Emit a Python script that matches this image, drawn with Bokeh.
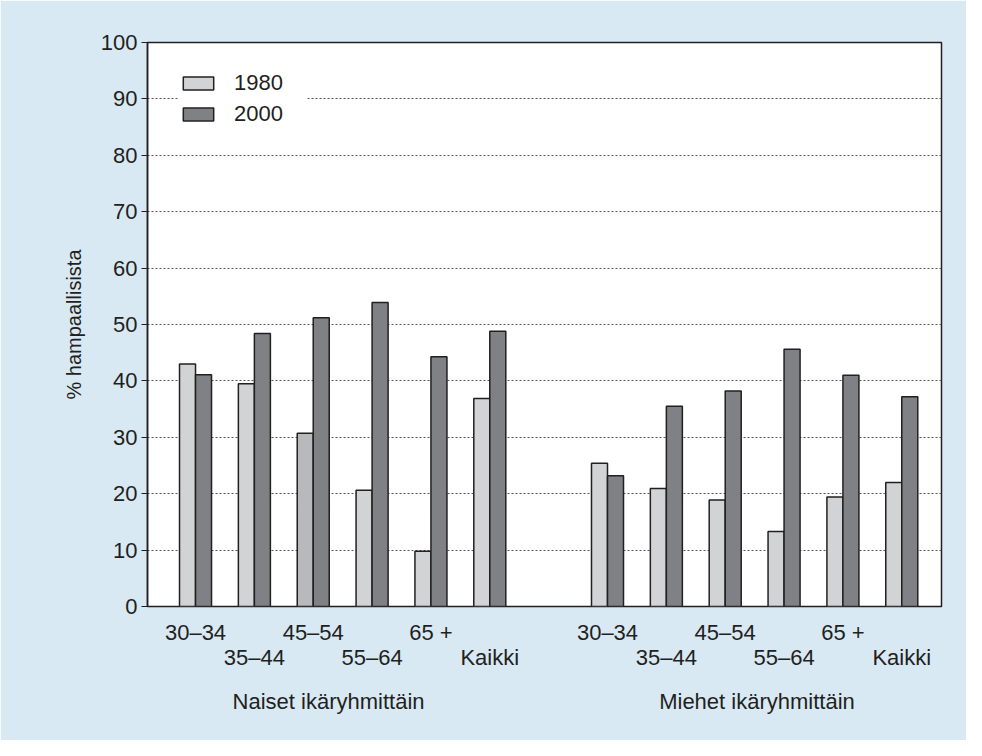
from bokeh.plotting import figure
from bokeh.models import Range1d, FixedTicker, LinearAxis, Legend, LegendItem, ColumnDataSource
from bokeh.embed import file_html
from bokeh.resources import INLINE

# ---- data ----
group_titles = ["Naiset ikäryhmittäin", "Miehet ikäryhmittäin"]
age_groups = ["30–34", "35–44", "45–54", "55–64", "65 +", "Kaikki"]
naiset_1980 = [43.0, 39.5, 30.7, 20.6, 9.8, 36.9]
naiset_2000 = [41.1, 48.4, 51.2, 53.9, 44.3, 48.8]
miehet_1980 = [25.4, 20.9, 18.9, 13.3, 19.4, 22.0]
miehet_2000 = [23.2, 35.5, 38.2, 45.6, 41.0, 37.2]
series_names = ["1980", "2000"]
y_ticks = [0, 10, 20, 30, 40, 50, 60, 70, 80, 90, 100]

# ---- layout helpers ----
n = len(age_groups)
pos = list(range(n)) + [n + 1 + i for i in range(n)]
labels = age_groups + age_groups
v1980 = naiset_1980 + miehet_1980
v2000 = naiset_2000 + miehet_2000
bw = 0.272
title_x = [2.26, 9.54]

FONT = "Liberation Sans"
TXT = "#231f20"
BG = "#d8e9f4"
LIGHT = "#d2d3d5"
LIGHT2 = "#b8b9bb"
DARK = "#808185"

c1980 = [LIGHT] * len(pos)
c1980[2] = LIGHT2

src1980 = ColumnDataSource(dict(x=[q - bw / 2 for q in pos], top=v1980, color=c1980))
src2000 = ColumnDataSource(dict(x=[q + bw / 2 for q in pos], top=v2000))

p = figure(width=966, height=740, output_backend="svg", toolbar_location=None,
           x_range=Range1d(-0.816, 12.675), y_range=Range1d(0, 100),
           x_axis_location=None,
           min_border_left=147, min_border_right=25, min_border_top=42, min_border_bottom=134)
p.background_fill_color = "white"
p.border_fill_color = BG
p.outline_line_color = TXT
p.outline_line_width = 1.5

r1 = p.vbar(x="x", top="top", width=bw, bottom=0, source=src1980, fill_color="color",
            line_color=TXT, line_width=1.5)
r2 = p.vbar(x="x", top="top", width=bw, bottom=0, source=src2000, fill_color=DARK,
            line_color=TXT, line_width=1.5)

p.xgrid.visible = False
p.ygrid.ticker = FixedTicker(ticks=y_ticks)
p.ygrid.grid_line_color = "#555555"
p.ygrid.grid_line_dash = "2 2"
p.ygrid.grid_line_width = 1

ya = p.yaxis[0]
ya.ticker = FixedTicker(ticks=y_ticks)
ya.axis_line_color = TXT
ya.axis_line_width = 1.5
ya.major_tick_line_color = TXT
ya.major_tick_line_width = 1.2
ya.major_tick_out = 6
ya.major_tick_in = 0
ya.minor_tick_line_color = None
ya.major_label_text_font = FONT
ya.major_label_text_font_size = "22px"
ya.major_label_text_color = TXT
ya.major_label_standoff = 4
ya.axis_label = "% hampaallisista"
ya.axis_label_text_font = FONT
ya.axis_label_text_font_size = "20px"
ya.axis_label_text_font_style = "normal"
ya.axis_label_text_color = TXT
ya.axis_label_standoff = 13


def label_axis(ticks, texts, standoff):
    ax = LinearAxis(ticker=FixedTicker(ticks=ticks),
                    major_label_overrides={t: s for t, s in zip(ticks, texts)})
    ax.axis_line_color = None
    ax.major_tick_line_color = None
    ax.minor_tick_line_color = None
    ax.major_tick_out = 0
    ax.major_tick_in = 0
    ax.major_label_standoff = standoff
    ax.major_label_text_font = FONT
    ax.major_label_text_font_size = "22px"
    ax.major_label_text_color = TXT
    return ax


up = [i for i in range(len(pos)) if (i % n) % 2 == 0]
lo = [i for i in range(len(pos)) if (i % n) % 2 == 1]
p.add_layout(label_axis([pos[i] for i in up], [labels[i] for i in up], 13), "below")
p.add_layout(label_axis([pos[i] for i in lo], [labels[i] for i in lo], -3), "below")
p.add_layout(label_axis(title_x, group_titles, 16), "below")

legend = Legend(items=[LegendItem(label=series_names[0], renderers=[r1], index=0),
                       LegendItem(label=series_names[1], renderers=[r2], index=0)],
                location=(32, 479))
legend.glyph_width = 38
legend.glyph_height = 16
legend.label_standoff = 17
legend.label_width = 73
legend.label_text_font = FONT
legend.label_text_font_size = "22px"
legend.label_text_color = TXT
legend.spacing = 5
legend.padding = 12
legend.border_line_color = None
legend.background_fill_color = "white"
legend.background_fill_alpha = 1.0
p.add_layout(legend)

open("out.html", "w").write(file_html(p, INLINE))
